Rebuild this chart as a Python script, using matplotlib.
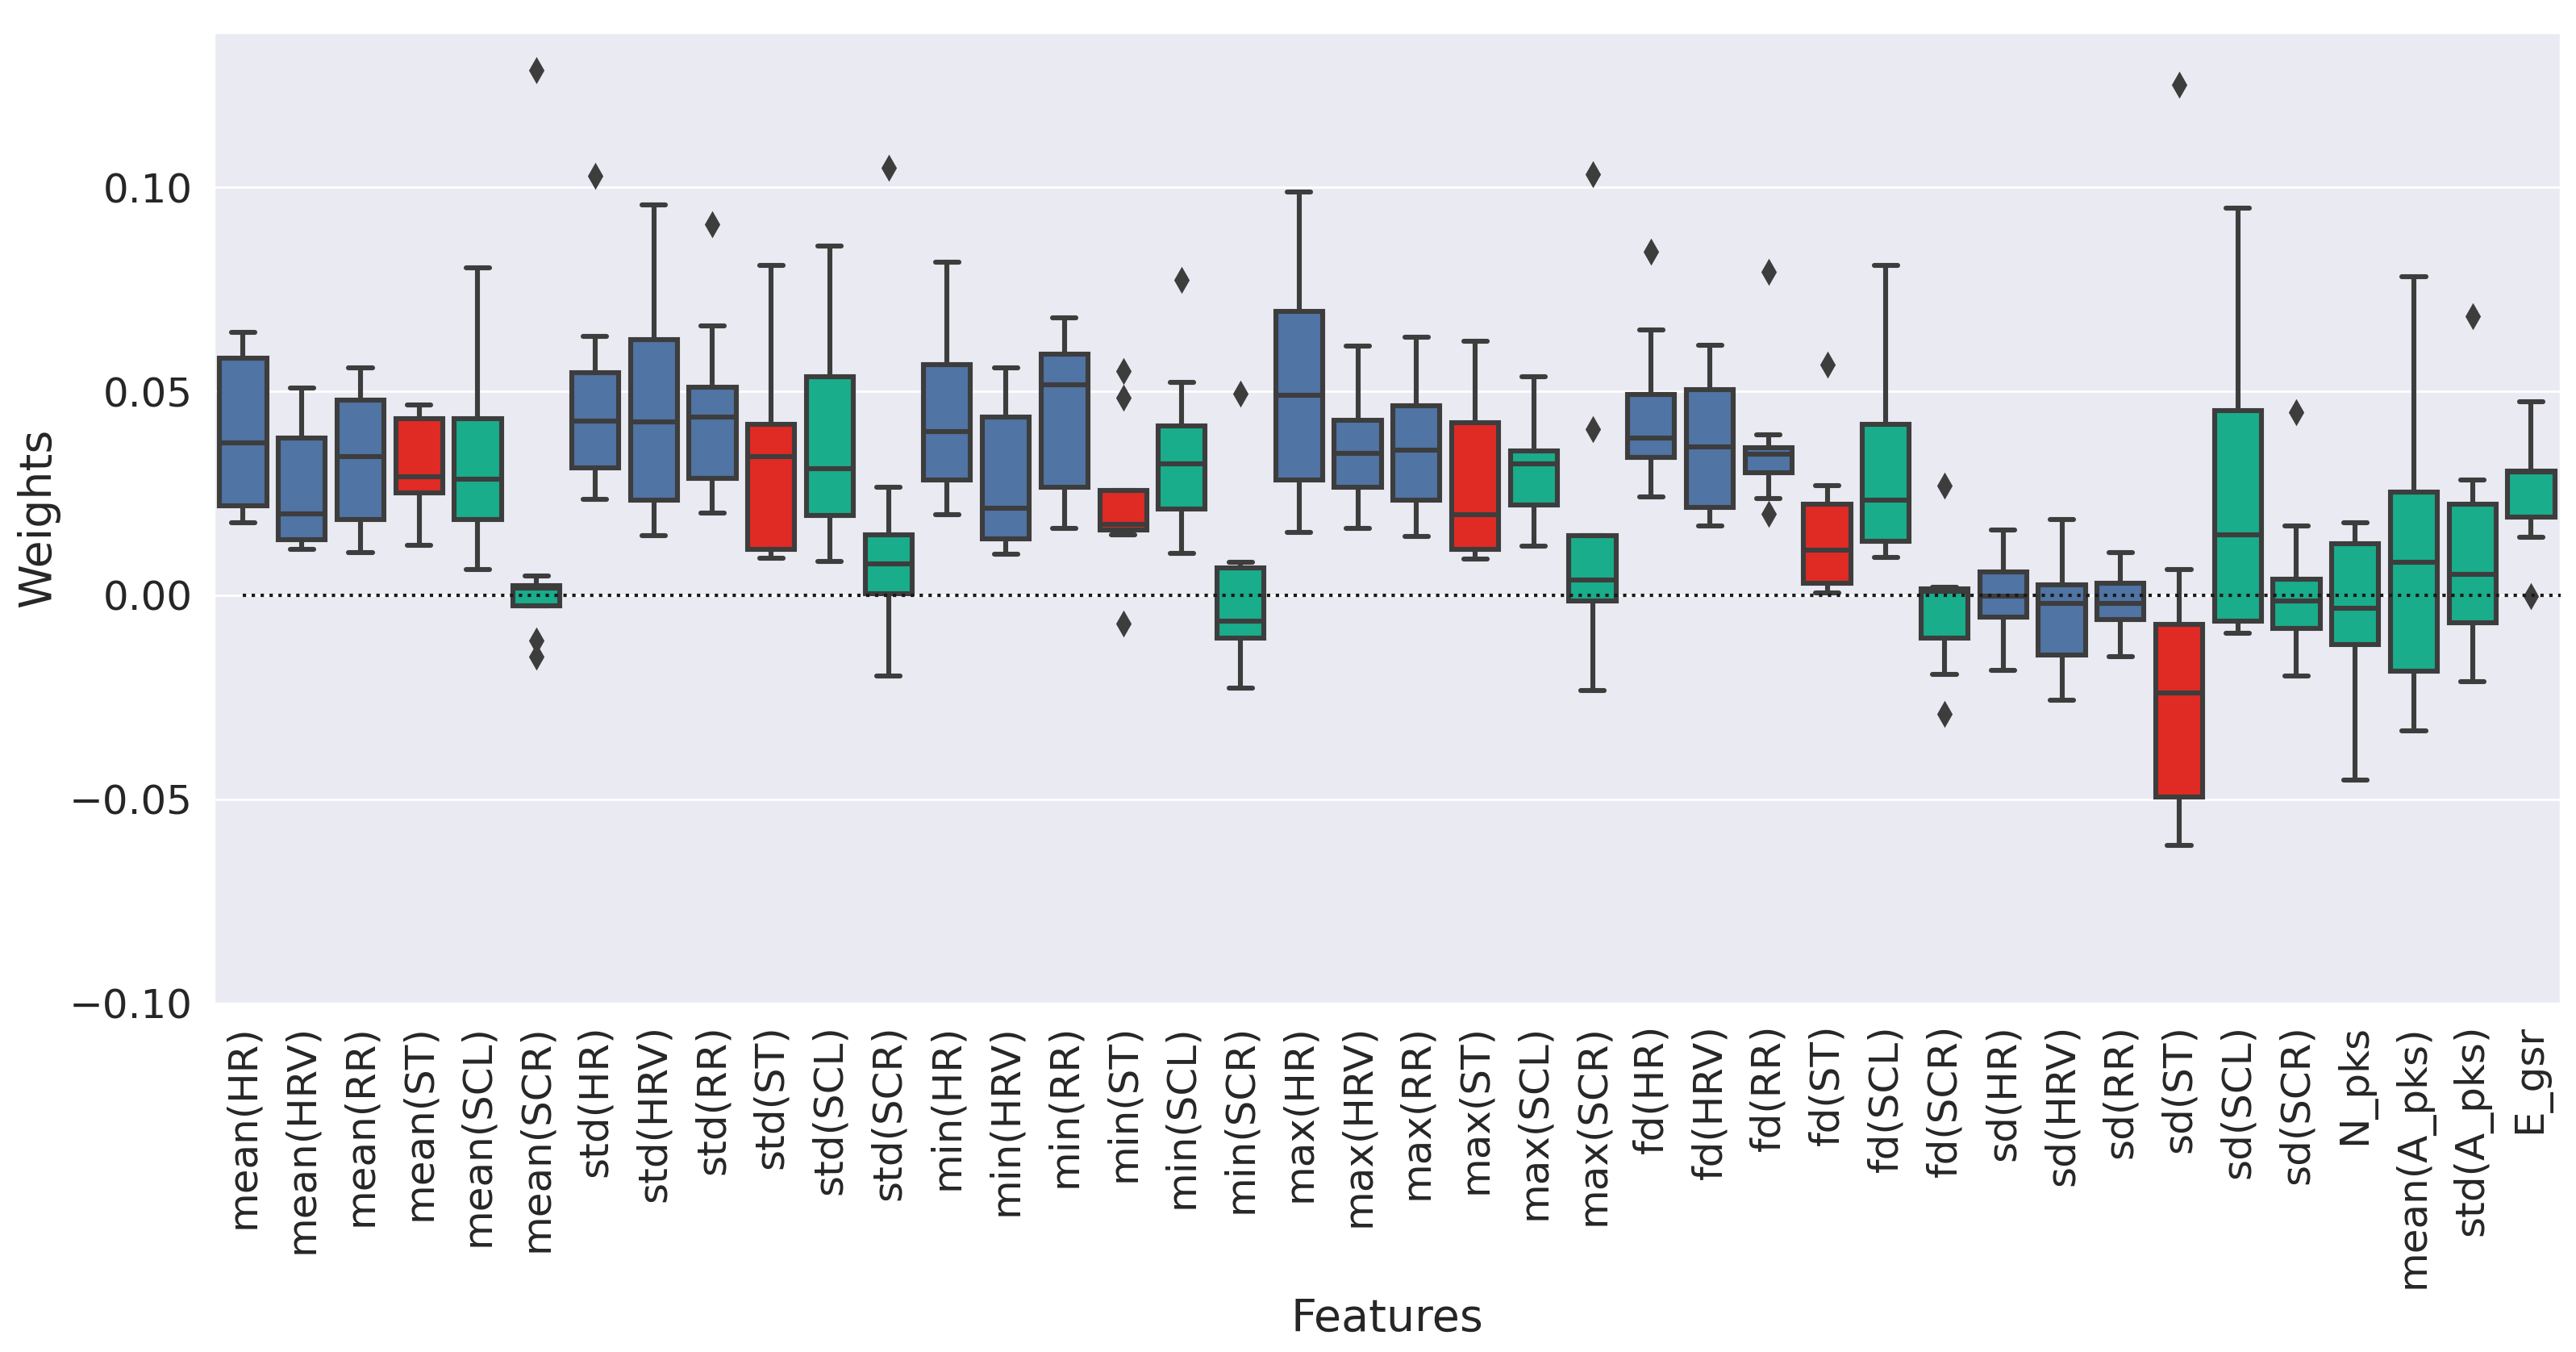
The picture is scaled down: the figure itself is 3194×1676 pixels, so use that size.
import numpy as np
import matplotlib
matplotlib.use("Agg")
import matplotlib.pyplot as plt
import seaborn as sns

sns.set_theme(style="darkgrid")
plt.rcParams['font.family'] = ['DejaVu Sans']

# feature names
features = ['mean(HR)', 'mean(HRV)', 'mean(RR)', 'mean(ST)', 'mean(SCL)', 'mean(SCR)',
            'std(HR)', 'std(HRV)', 'std(RR)', 'std(ST)', 'std(SCL)', 'std(SCR)',
            'min(HR)', 'min(HRV)', 'min(RR)', 'min(ST)', 'min(SCL)', 'min(SCR)',
            'max(HR)', 'max(HRV)', 'max(RR)', 'max(ST)', 'max(SCL)', 'max(SCR)',
            'fd(HR)', 'fd(HRV)', 'fd(RR)', 'fd(ST)', 'fd(SCL)', 'fd(SCR)',
            'sd(HR)', 'sd(HRV)', 'sd(RR)', 'sd(ST)', 'sd(SCL)', 'sd(SCR)',
            'N_pks', 'mean(A_pks)', 'std(A_pks)', 'E_gsr']

# signal group of each feature: 0 = cardiac, 1 = skin temp, 2 = EDA
groups = [0, 0, 0, 1, 2, 2,
          0, 0, 0, 1, 2, 2,
          0, 0, 0, 1, 2, 2,
          0, 0, 0, 1, 2, 2,
          0, 0, 0, 1, 2, 2,
          0, 0, 0, 1, 2, 2,
          2, 2, 2, 2]

# box statistics
whis_hi = [0.0645, 0.0509, 0.0558, 0.0467, 0.0803, 0.0047,
           0.0634, 0.0958, 0.0660, 0.0808, 0.0857, 0.0264,
           0.0816, 0.0558, 0.0681, 0.0257, 0.0522, 0.0082,
           0.0989, 0.0611, 0.0633, 0.0622, 0.0535, 0.0147,
           0.0651, 0.0614, 0.0394, 0.0268, 0.0808, 0.0020,
           0.0160, 0.0186, 0.0104, 0.0064, 0.0950, 0.0171,
           0.0178, 0.0781, 0.0282, 0.0474]
q3 = [0.0581, 0.0386, 0.0479, 0.0433, 0.0433, 0.0023,
      0.0546, 0.0626, 0.0510, 0.0419, 0.0535, 0.0149,
      0.0566, 0.0437, 0.0591, 0.0257, 0.0416, 0.0067,
      0.0696, 0.0429, 0.0465, 0.0423, 0.0353, 0.0147,
      0.0493, 0.0505, 0.0361, 0.0223, 0.0419, 0.0016,
      0.0057, 0.0026, 0.0029, -0.0071, 0.0453, 0.0040,
      0.0126, 0.0253, 0.0223, 0.0304]
med = [0.0374, 0.0200, 0.0341, 0.0290, 0.0284, 0.0017,
       0.0428, 0.0425, 0.0437, 0.0340, 0.0310, 0.0078,
       0.0402, 0.0214, 0.0516, 0.0174, 0.0322, -0.0064,
       0.0491, 0.0349, 0.0355, 0.0198, 0.0322, 0.0037,
       0.0386, 0.0363, 0.0347, 0.0110, 0.0233, 0.0010,
       -0.0002, -0.0019, -0.0019, -0.0240, 0.0149, -0.0014,
       -0.0031, 0.0081, 0.0051, 0.0302]
q1 = [0.0219, 0.0136, 0.0186, 0.0251, 0.0186, -0.0025,
      0.0313, 0.0233, 0.0287, 0.0113, 0.0195, 0.0003,
      0.0282, 0.0138, 0.0264, 0.0161, 0.0212, -0.0104,
      0.0282, 0.0264, 0.0233, 0.0113, 0.0222, -0.0014,
      0.0338, 0.0216, 0.0301, 0.0029, 0.0132, -0.0105,
      -0.0053, -0.0146, -0.0059, -0.0495, -0.0064, -0.0082,
      -0.0121, -0.0186, -0.0068, 0.0191]
whis_lo = [0.0178, 0.0113, 0.0104, 0.0122, 0.0064, -0.0025,
           0.0236, 0.0146, 0.0202, 0.0090, 0.0084, -0.0198,
           0.0198, 0.0101, 0.0164, 0.0149, 0.0102, -0.0228,
           0.0155, 0.0164, 0.0144, 0.0088, 0.0121, -0.0234,
           0.0242, 0.0171, 0.0237, 0.0006, 0.0093, -0.0194,
           -0.0184, -0.0257, -0.0150, -0.0614, -0.0093, -0.0198,
           -0.0453, -0.0332, -0.0212, 0.0143]
outliers = [[], [], [], [], [], [0.1287, -0.0110, -0.0150],
            [0.1028], [], [0.0910], [], [], [0.1048],
            [], [], [], [0.0550, 0.0484, -0.0070], [0.0774], [0.0495],
            [], [], [], [], [], [0.1033, 0.0408],
            [0.0843], [], [0.0794, 0.0200], [0.0566], [], [0.0268, -0.0291],
            [], [], [], [0.1251], [], [0.0448],
            [], [], [0.0685], [-0.0002]]

palette = ['#5074a4', '#e02a24', '#19ad8b']
edge = '#3d3d3d'

stats = []
for i in range(len(features)):
    stats.append(dict(label=features[i], whishi=whis_hi[i], q3=q3[i], med=med[i],
                      q1=q1[i], whislo=whis_lo[i], fliers=outliers[i]))

fig, ax = plt.subplots(figsize=(15.97, 8.38), dpi=200)
fig.subplots_adjust(left=0.083, right=0.994, top=0.976, bottom=0.258)

lw = 2.2
bp = ax.bxp(stats, positions=np.arange(len(features)), widths=0.8, patch_artist=True,
            boxprops=dict(edgecolor=edge, linewidth=lw),
            medianprops=dict(color=edge, linewidth=lw),
            whiskerprops=dict(color=edge, linewidth=lw),
            capprops=dict(color=edge, linewidth=lw),
            flierprops=dict(marker='d', markerfacecolor=edge, markeredgecolor=edge,
                            markersize=7, linestyle='none'))
for patch, g in zip(bp['boxes'], groups):
    patch.set_facecolor(palette[g])

ax.hlines(0, 0, len(features), colors='k', linestyles=':', linewidth=1.5, zorder=5)
ax.set_xlim(-0.5, len(features) - 0.5)
ax.set_ylim(-0.1, 0.138)
ax.set_yticks([-0.10, -0.05, 0.00, 0.05, 0.10])
ax.set_yticklabels(['−0.10', '−0.05', '0.00', '0.05', '0.10'])
ax.grid(False, axis='x')
ax.set_xticks(np.arange(len(features)))
ax.set_xticklabels(features, rotation=90)
ax.tick_params(axis='both', labelsize=18, labelcolor='#262626')
ax.set_xlabel('Features', fontsize=20, color='#262626')
ax.set_ylabel('Weights', fontsize=20, color='#262626')

fig.savefig('out.png')
